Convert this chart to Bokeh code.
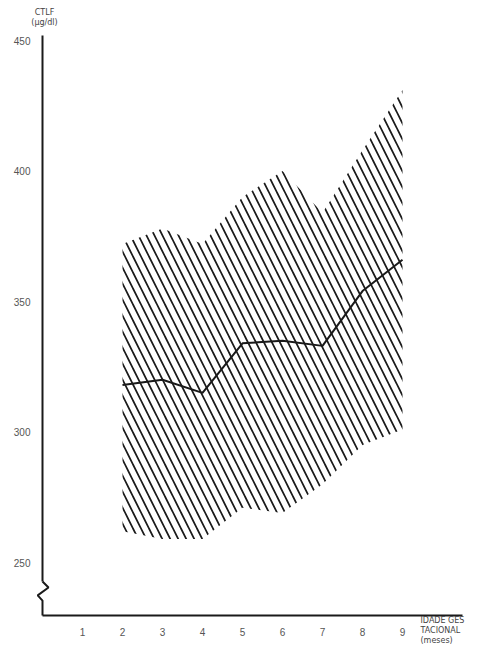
from bokeh.plotting import figure
from bokeh.models import Range1d, FixedTicker, Label, ColumnDataSource
from bokeh.embed import file_html
from bokeh.resources import INLINE

months = [2, 3, 4, 5, 6, 7, 8, 9]
upper = [372, 378, 372, 390, 400, 384, 408, 431]
mean = [318, 320, 315, 334, 335, 333, 354, 366]
lower = [262, 259, 259, 271, 269, 280, 295, 301]
x_ticks = [1, 2, 3, 4, 5, 6, 7, 8, 9]
y_ticks = [250, 300, 350, 400, 450]
y_axis_top = 452
x_axis_end = 10.5
y_axis_base = 229.7
# axis break marker (zig-zag on the value axis)
break_x = [0, 0.15, -0.12, 0, 0]
break_y = [242.7, 240.4, 237.4, 235.4, 229.7]

src = ColumnDataSource(dict(x=months, up=upper, lo=lower, m=mean))

p = figure(width=488, height=648, output_backend="svg", toolbar_location=None,
           x_range=Range1d(-1.05, 11.15), y_range=Range1d(217.05, 465.33),
           min_border=0)
p.outline_line_color = None
p.grid.visible = False
p.background_fill_color = "white"

p.varea(x="x", y1="lo", y2="up", source=src, fill_alpha=0,
        hatch_pattern="\\", hatch_color="#1a1a1a", hatch_weight=1.7, hatch_scale=16)
p.line(x="x", y="m", source=src, line_color="#1a1a1a", line_width=2)
p.line(x=break_x, y=break_y, line_color="#1a1a1a", line_width=2)

for ax in (p.xaxis[0], p.yaxis[0]):
    ax.axis_line_color = "#1a1a1a"
    ax.axis_line_width = 2
    ax.major_tick_line_color = None
    ax.minor_tick_line_color = None
    ax.major_label_text_font = "Liberation Sans"
    ax.major_label_text_font_size = "10px"
    ax.major_label_text_color = "#555555"

p.xaxis.ticker = FixedTicker(ticks=x_ticks)
p.yaxis.ticker = FixedTicker(ticks=y_ticks)
p.xaxis.fixed_location = y_axis_base
p.yaxis.fixed_location = 0
p.xaxis.bounds = (0, x_axis_end)
p.yaxis.bounds = (break_y[0], y_axis_top)
p.xaxis.major_label_standoff = 7
p.yaxis.major_label_standoff = 6

p.add_layout(Label(x=0.05, y=462.6, text="CTLF", text_align="center", text_baseline="top",
                   text_font="DejaVu Sans", text_font_size="8px", text_color="#444444"))
p.add_layout(Label(x=0.05, y=458.8, text="(\u00b5g/dl)", text_align="center", text_baseline="top",
                   text_font="DejaVu Sans", text_font_size="8px", text_color="#444444"))
p.add_layout(Label(x=9.45, y=229.6, text="IDADE GES\nTACIONAL\n(meses)",
                   text_font="DejaVu Sans", text_font_size="8px", text_color="#444444",
                   text_baseline="top", text_line_height=1.1))

open("out.html", "w").write(file_html(p, INLINE))
